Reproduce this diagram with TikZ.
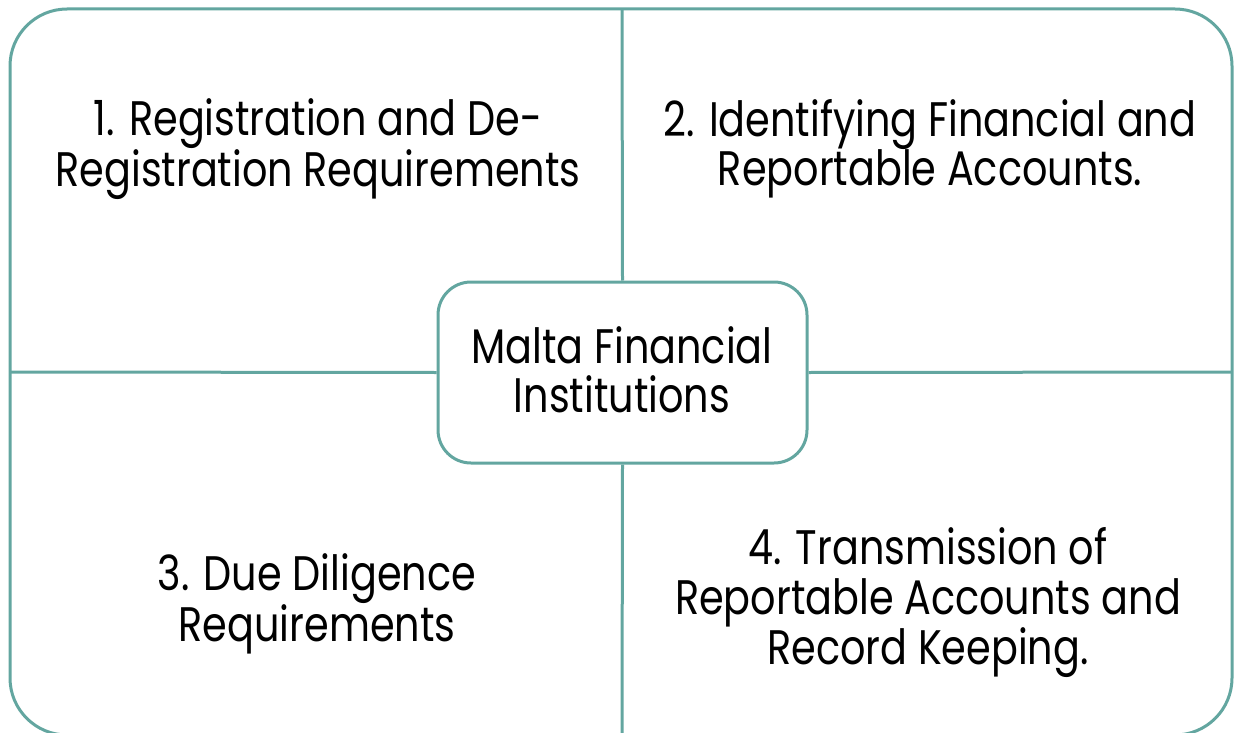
\documentclass[tikz,border=0pt]{standalone}
\usepackage{fontspec}
\setmainfont{Poppins}[FakeStretch=0.82]
\definecolor{teal1}{RGB}{99,166,160}
\begin{document}
\begin{tikzpicture}[x=1pt,y=-1pt,
  frame/.style={draw=teal1,line width=3pt},
  lbl/.style={align=center,font=\fontsize{48.5}{49.5}\selectfont,inner sep=0pt,text=black}]
\useasboundingbox (0,0) rectangle (1234,733);
\draw[frame,rounded corners=57pt] (10,9) rectangle (1232,735);
\coordinate (top) at (622,9);
\coordinate (bot) at (622,735);
\coordinate (lft) at (10,372);
\coordinate (rgt) at (1232,372);
\node[frame,fill=white,rounded corners=33pt,minimum width=369pt,minimum height=181pt,inner sep=0pt] (ctr) at (622.5,372.5) {};
\draw[frame] (top) -- (ctr.north);
\draw[frame] (ctr.south) -- (bot);
\draw[frame] (lft) -- (ctr.west);
\draw[frame] (ctr.east) -- (rgt);
\node[lbl] (c) at (622,370) {Malta Financial\\Institutions};
\node[lbl] (q1) at (318,149) {1. Registration and De-\\Registration Requirements};
\node[lbl] (q2) at (930,149) {2. Identifying Financial and\\Reportable Accounts.};
\node[lbl] (q3) at (317,604) {3. Due Diligence\\Requirements};
\node[lbl] (q4) at (928,603) {4. Transmission of\\Reportable Accounts and\\Record Keeping.};
\end{tikzpicture}
\end{document}
